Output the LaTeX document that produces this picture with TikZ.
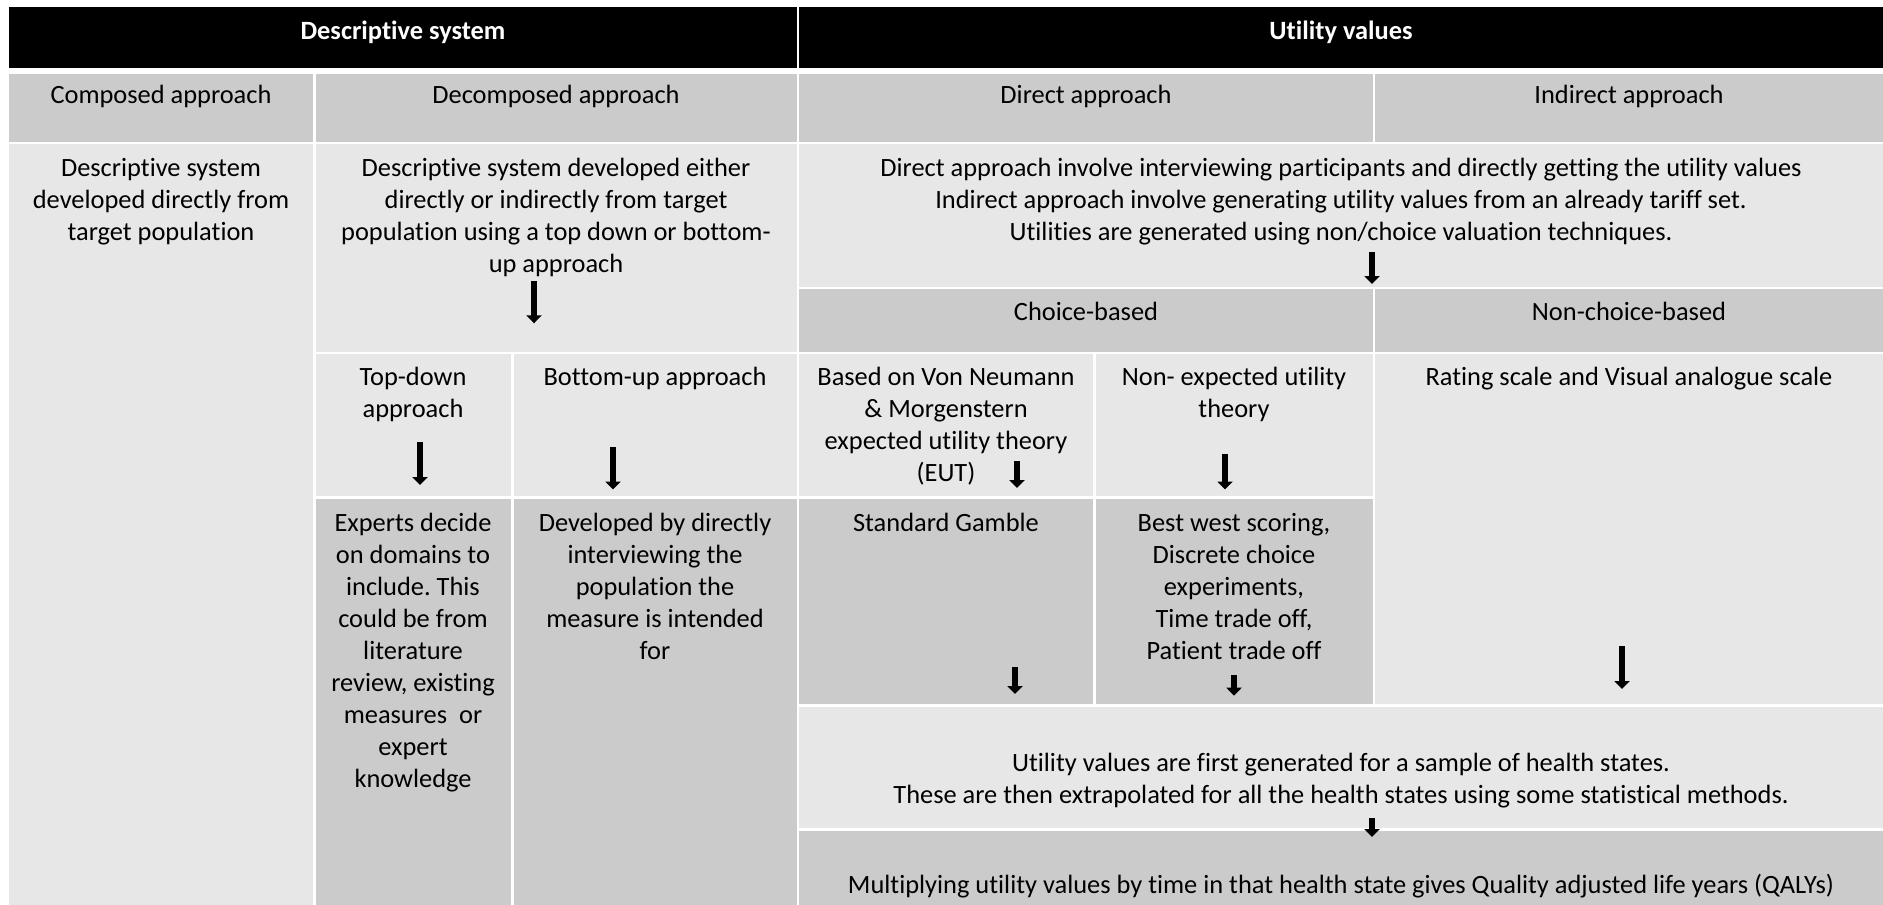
\documentclass[tikz,border=0pt]{standalone}
\usepackage{fontspec}
\setmainfont{Carlito}[Ligatures=CommonOff]
\usepackage{tikz}
\usetikzlibrary{arrows.meta}
\frenchspacing

\definecolor{cellDark}{RGB}{203,203,203}
\definecolor{cellLight}{RGB}{231,231,231}

\tikzset{
  txt/.style={anchor=north, align=center, inner sep=0pt,
    font=\fontsize{26.4}{32}\selectfont},
  hd/.style={txt, text=white, font=\fontsize{26.4}{32}\selectfont\bfseries},
  dn/.style={-{Triangle[width=15pt,length=8pt]}, line width=5.5pt}
}

\begin{document}
\begin{tikzpicture}[x=1pt,y=-1pt]
\useasboundingbox (0,0) rectangle (1883,905);

% cells
\fill[black] (9.3,6.7) rectangle (796.7,67.7);
\fill[black] (799.3,6.7) rectangle (1883,67.7);
\fill[cellDark] (9.3,74) rectangle (313.3,142.3);
\fill[cellDark] (315.7,74) rectangle (796.7,142.3);
\fill[cellDark] (799.3,74) rectangle (1372.7,142.3);
\fill[cellDark] (1375.3,74) rectangle (1883,142.3);
\fill[cellLight] (9.3,144.3) rectangle (313.3,905);
\fill[cellLight] (315.7,144.3) rectangle (796.7,351.7);
\fill[cellLight] (799.3,144.3) rectangle (1883,286.7);
\fill[cellDark] (799.3,289.3) rectangle (1372.7,351.7);
\fill[cellDark] (1375.3,289.3) rectangle (1883,351.7);
\fill[cellLight] (315.7,354.3) rectangle (511,496);
\fill[cellLight] (513.7,354.3) rectangle (796.7,496);
\fill[cellLight] (799.3,354.3) rectangle (1093.3,496);
\fill[cellLight] (1096,354.3) rectangle (1372.7,496);
\fill[cellLight] (1375.3,354.3) rectangle (1883,704);
\fill[cellDark] (315.7,498.5) rectangle (511,905);
\fill[cellDark] (513.7,498.5) rectangle (796.7,905);
\fill[cellDark] (799.3,498.5) rectangle (1093.3,704);
\fill[cellDark] (1096,498.5) rectangle (1372.7,704);
\fill[cellLight] (799.3,706.7) rectangle (1883,828.3);
\fill[cellDark] (799.3,830.7) rectangle (1883,905);

% texts
\node[hd] (descsys) at (403,16.4) {\strut Descriptive system};
\node[hd] (utilval) at (1341,16.4) {\strut Utility values};

\node[txt] (composed) at (161,81) {\strut Composed approach};
\node[txt] (decomposed) at (556,81) {\strut Decomposed approach};
\node[txt] (direct) at (1086,81) {\strut Direct approach};
\node[txt] (indirect) at (1629,81) {\strut Indirect approach};

\node[txt] (compdesc) at (161,153.6) {\strut Descriptive system\\developed directly from\\target population};
\node[txt] (decompdesc) at (556,153.6) {\strut Descriptive system developed either\\directly or indirectly from target\\population using a top down or bottom-\\up approach};
\node[txt] (directdesc) at (1341,153.6) {\strut Direct approach involve interviewing participants and directly getting the utility values\\Indirect approach involve generating utility values from an already tariff set.\\Utilities are generated using non/choice valuation techniques.};

\node[txt] (choice) at (1086,297.6) {\strut Choice-based};
\node[txt] (nonchoice) at (1629,297.6) {\strut Non-choice-based};

\node[txt] (topdown) at (413,362.6) {\strut Top-down\\approach};
\node[txt] (bottomup) at (655,362.6) {\strut Bottom-up approach};
\node[txt] (eut) at (946,362.6) {\strut Based on Von Neumann\\\& Morgenstern\\expected utility theory\\(EUT)};
\node[txt] (nonexp) at (1234,362.6) {\strut Non- expected utility\\theory};
\node[txt] (rating) at (1629,362.6) {\strut Rating scale and Visual analogue scale};

\node[txt] (experts) at (413,508.6) {\strut Experts decide\\on domains to\\include. This\\could be from\\literature\\review, existing\\measures\ \ or\\expert\\knowledge};
\node[txt] (developed) at (655,508.6) {\strut Developed by directly\\interviewing the\\population the\\measure is intended\\for};
\node[txt] (gamble) at (946,508.6) {\strut Standard Gamble};
\node[txt] (bestwest) at (1234,508.6) {\strut Best west scoring,\\Discrete choice\\experiments,\\Time trade off,\\Patient trade off};

\node[txt] (sample) at (1341,749) {\strut Utility values are first generated for a sample of health states.\\These are then extrapolated for all the health states using some statistical methods.};
\node[txt] (qaly) at (1341,870.6) {\strut Multiplying utility values by time in that health state gives Quality adjusted life years (QALYs)};

% arrows
\coordinate (a1) at (534,281);   \coordinate (a1e) at (534,323.3);
\coordinate (a2) at (1372,252);  \coordinate (a2e) at (1372,284);
\coordinate (a3) at (420,441.7); \coordinate (a3e) at (420,485);
\coordinate (a4) at (613,447);   \coordinate (a4e) at (613,489.5);
\coordinate (a5) at (1017,461);  \coordinate (a5e) at (1017,488);
\coordinate (a6) at (1225,453.5);\coordinate (a6e) at (1225,489.5);
\coordinate (a7) at (1015,667);  \coordinate (a7e) at (1015,694);
\coordinate (a8) at (1234,675);  \coordinate (a8e) at (1234,695.7);
\coordinate (a9) at (1622,646);  \coordinate (a9e) at (1622,689);
\coordinate (a10) at (1372,817.5); \coordinate (a10e) at (1372,837);

\draw[dn] (a1) to (a1e);
\draw[dn] (a2) to (a2e);
\draw[dn] (a3) to (a3e);
\draw[dn] (a4) to (a4e);
\draw[dn] (a5) to (a5e);
\draw[dn] (a6) to (a6e);
\draw[dn] (a7) to (a7e);
\draw[dn] (a8) to (a8e);
\draw[dn] (a9) to (a9e);
\draw[dn] (a10) to (a10e);
\end{tikzpicture}
\end{document}
